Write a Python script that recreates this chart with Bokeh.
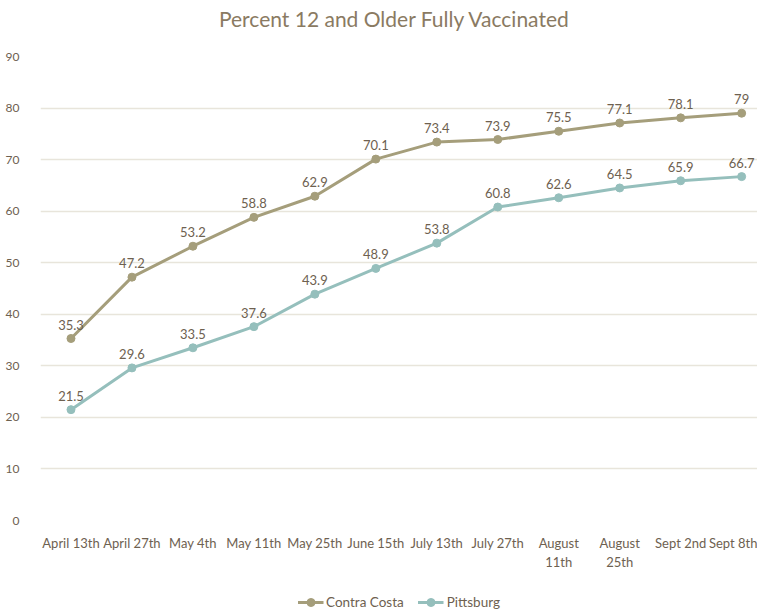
from bokeh.plotting import figure
from bokeh.layouts import column
from bokeh.models import ColumnDataSource, Legend, LegendItem, FixedTicker, Range1d, LabelSet, Label
from bokeh.core.properties import value
from bokeh.embed import file_html
from bokeh.resources import INLINE

title_text = "Percent 12 and Older Fully Vaccinated"
categories = ["April 13th", "April 27th", "May 4th", "May 11th", "May 25th", "June 15th",
              "July 13th", "July 27th", "August\n11th", "August\n25th", "Sept 2nd", "Sept 8th"]
contra_costa = [35.3, 47.2, 53.2, 58.8, 62.9, 70.1, 73.4, 73.9, 75.5, 77.1, 78.1, 79]
pittsburg = [21.5, 29.6, 33.5, 37.6, 43.9, 48.9, 53.8, 60.8, 62.6, 64.5, 65.9, 66.7]
y_ticks = [0, 10, 20, 30, 40, 50, 60, 70, 80, 90]
series_names = ["Contra Costa", "Pittsburg"]

FONT = "Lato"
TXT = "#6E6150"
C1 = "#A59E7B"
C2 = "#95BFBC"
W = 757

xs = list(range(len(categories)))

# title strip
tp = figure(width=W, height=36, output_backend="svg", toolbar_location=None,
            x_range=Range1d(0, 1), y_range=Range1d(0, 1),
            min_border_left=0, min_border_right=0, min_border_top=0, min_border_bottom=0)
tp.axis.visible = False
tp.grid.visible = False
tp.outline_line_color = None
tp.add_layout(Label(x=0.494, y=0.5, text=title_text, text_align="center", text_baseline="middle",
                    text_font=FONT, text_font_size="21px", text_color="#8A7A62"))

p = figure(width=W, height=539, output_backend="svg", toolbar_location=None,
           x_range=Range1d(-0.5, 11.26), y_range=Range1d(0, 90),
           min_border_left=40, min_border_right=0, min_border_top=20, min_border_bottom=55)
p.outline_line_color = None
p.background_fill_color = "white"

p.xaxis.ticker = FixedTicker(ticks=xs)
p.xaxis.major_label_overrides = {i: c for i, c in enumerate(categories)}
p.yaxis.ticker = FixedTicker(ticks=y_ticks)
for ax in (p.xaxis, p.yaxis):
    ax.axis_line_color = None
    ax.major_tick_line_color = None
    ax.minor_tick_line_color = None
    ax.major_label_text_font = FONT
    ax.major_label_text_color = TXT
p.xaxis.major_label_text_font_size = "13px"
p.yaxis.major_label_text_font_size = "12px"
p.xaxis.major_label_standoff = 8
p.yaxis.major_label_standoff = 15
p.xgrid.grid_line_color = None
p.ygrid.grid_line_color = "#E8E5DB"
p.ygrid.grid_line_width = 1.5

src1 = ColumnDataSource(dict(x=xs, y=contra_costa, t=[f"{v:g}" for v in contra_costa]))
src2 = ColumnDataSource(dict(x=xs, y=pittsburg, t=[f"{v:g}" for v in pittsburg]))

p.line("x", "y", source=src1, line_color=C1, line_width=3)
p.scatter("x", "y", source=src1, marker="circle", size=8, fill_color=C1, line_color=C1)
p.line("x", "y", source=src2, line_color=C2, line_width=3)
p.scatter("x", "y", source=src2, marker="circle", size=8, fill_color=C2, line_color=C2)

for s in (src1, src2):
    lab = LabelSet(x="x", y="y", text="t", source=s, text_align="center", text_baseline="bottom",
                   y_offset=9, text_font=value(FONT), text_font_size=value("13px"), text_color=TXT)
    p.add_layout(lab)

# legend strip below the chart (dummy renderers kept outside its visible range)
lg = figure(width=W, height=37, output_backend="svg", toolbar_location=None,
            x_range=Range1d(0, 1), y_range=Range1d(0, 1),
            min_border_left=0, min_border_right=0, min_border_top=0, min_border_bottom=0)
lg.axis.visible = False
lg.grid.visible = False
lg.outline_line_color = None
e = ColumnDataSource(dict(x=[5, 6], y=[5, 6]))
a1 = lg.line("x", "y", source=e, line_color=C1, line_width=3)
b1 = lg.scatter("x", "y", source=e, marker="circle", size=8, fill_color=C1, line_color=C1)
a2 = lg.line("x", "y", source=e, line_color=C2, line_width=3)
b2 = lg.scatter("x", "y", source=e, marker="circle", size=8, fill_color=C2, line_color=C2)
legend = Legend(items=[LegendItem(label=series_names[0], renderers=[a1, b1]),
                       LegendItem(label=series_names[1], renderers=[a2, b2])],
                orientation="horizontal", location="bottom",
                label_text_font=FONT, label_text_font_size="13.5px", label_text_color=TXT,
                border_line_color=None, background_fill_alpha=0, glyph_width=26,
                label_standoff=3, spacing=14, padding=2, margin=0)
lg.add_layout(legend, "center")

layout = column(tp, p, lg, spacing=0)
open("out.html", "w").write(file_html(layout, INLINE))
